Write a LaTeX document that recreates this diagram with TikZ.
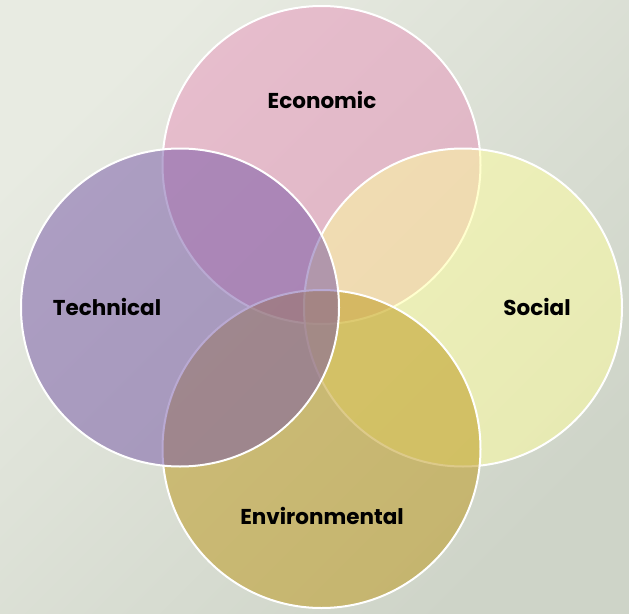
\documentclass[tikz,border=0pt]{standalone}
\usepackage{fontspec}
\setmainfont{Poppins}
\definecolor{bgA}{RGB}{232,235,226}
\definecolor{bgB}{RGB}{206,212,200}
\definecolor{ecoC}{RGB}{231,146,186}
\definecolor{socC}{RGB}{255,255,158}
\definecolor{envC}{RGB}{188,150,22}
\definecolor{tecC}{RGB}{116,84,166}
\tikzset{
  venn/.style={circle, minimum size=318pt, inner sep=0pt, fill opacity=0.5, draw=white, draw opacity=1, line width=2pt},
  lbl/.style={font=\fontsize{21.5}{26}\selectfont\bfseries, text=black, inner sep=0pt}
}
\begin{document}
\begin{tikzpicture}[x=1pt,y=-1pt]
\shade[top color=bgA, bottom color=bgB, shading angle=45] (0,0) rectangle (629,613);
\useasboundingbox (0,0) rectangle (629,613);
\node[venn, fill=ecoC] (eco) at (321.5,165) {};
\node[venn, fill=socC] (soc) at (463,307.5) {};
\node[venn, fill=envC] (env) at (321.5,449) {};
\node[venn, fill=tecC] (tec) at (180,307.5) {};
\node[lbl] (ecoL) at (322,100) {Economic};
\node[lbl] (socL) at (537,307) {Social};
\node[lbl] (envL) at (322,516) {Environmental};
\node[lbl] (tecL) at (107,307) {Technical};
\end{tikzpicture}
\end{document}
